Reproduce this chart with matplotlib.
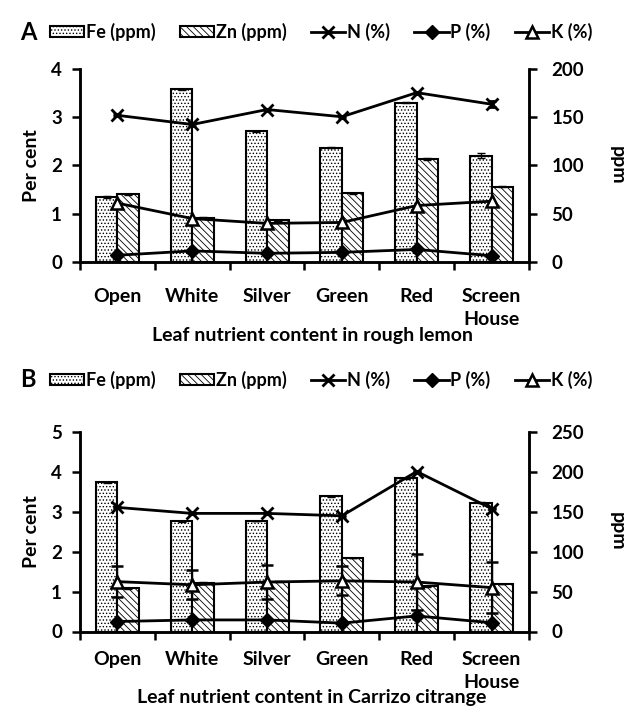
import numpy as np
import matplotlib.pyplot as plt
from matplotlib.ticker import FixedLocator

plt.rcParams['font.family'] = ['Lato', 'DejaVu Sans']
plt.rcParams['font.weight'] = 'bold'
plt.rcParams['hatch.linewidth'] = 0.6

sites = ["Open", "White", "Silver", "Green", "Red", "Screen\nHouse"]

# rough lemon
fe_a = [67.5, 179, 135.5, 118.5, 165, 110]
zn_a = [70, 46, 43.5, 71, 106.5, 78]
fe_a_err = [0.8, 0.5, 0.5, 0.5, 0.5, 2.5]
zn_a_err = [0.5, 0.5, 0.5, 0.5, 0.8, 0.5]
n_a = [3.04, 2.85, 3.16, 3.01, 3.51, 3.27]
n_a_err = [0.02, 0.03, 0.02, 0.02, 0.02, 0.06]
p_a = [0.14, 0.23, 0.18, 0.20, 0.26, 0.13]
k_a = [1.22, 0.90, 0.80, 0.82, 1.17, 1.26]

# Carrizo citrange
fe_b = [187, 138, 138.5, 169.5, 192, 161.5]
zn_b = [54, 61, 62.5, 92, 56.5, 59.5]
fe_b_err = [0.8, 0.5, 0.5, 0.5, 0.5, 0.5]
zn_b_err = [0.5, 0.5, 0.5, 0.5, 0.5, 0.5]
n_b = [3.11, 2.96, 2.96, 2.90, 4.01, 3.08]
n_b_err = [0.02, 0.02, 0.02, 0.02, 0.02, 0.02]
p_b = [0.25, 0.29, 0.29, 0.21, 0.39, 0.22]
k_b = [1.25, 1.17, 1.24, 1.27, 1.24, 1.10]
k_b_err = [0.38, 0.36, 0.42, 0.36, 0.70, 0.63]

w = 0.287
x = np.arange(len(sites))


def panel(rect, letter, fe, zn, fe_err, zn_err, n, n_err, p, k, k_err,
          pmax, title, legend_y, title_y, lab_pad):
    ax = fig.add_axes(rect)
    ax2 = ax.twinx()
    b1 = ax2.bar(x - w / 2, fe, w, yerr=fe_err, color='white', edgecolor='black',
                 hatch='.....', linewidth=1.5, capsize=3,
                 error_kw=dict(elinewidth=1, capthick=1))
    b2 = ax2.bar(x + w / 2, zn, w, yerr=zn_err, color='white', edgecolor='black',
                 hatch='\\\\\\\\\\', linewidth=1.5, capsize=3,
                 error_kw=dict(elinewidth=1, capthick=1))
    l1 = ax.errorbar(x, n, yerr=n_err, color='black', lw=2, marker='x', ms=8,
                     mew=2, capsize=3, elinewidth=1)
    l2 = ax.errorbar(x, p, color='black', lw=2, marker='D', ms=7,
                     mfc='black', mec='black')
    l3 = ax.errorbar(x, k, yerr=k_err, color='black', lw=2, marker='^', ms=8,
                     mfc='white', mec='black', mew=1.8, capsize=4, elinewidth=1)
    ax.set_zorder(ax2.get_zorder() + 1)
    ax.patch.set_visible(False)

    ax.set_xlim(-0.5, 5.5)
    ax.set_ylim(0, pmax)
    ax2.set_ylim(0, pmax * 50)
    ax.set_yticks(np.arange(0, pmax + 1))
    ax2.set_yticks(np.arange(0, pmax * 50 + 1, 50))
    ax.set_xticks(x)
    ax.set_xticklabels(sites, fontsize=14, fontweight='bold', linespacing=1.4,
                       va='top')
    ax.xaxis.set_minor_locator(FixedLocator(np.arange(-0.5, 6, 1)))
    ax.tick_params(axis='x', which='major', length=0, pad=lab_pad)
    ax.tick_params(axis='x', which='minor', length=6, width=1.8, direction='out')
    ax.tick_params(axis='y', length=6, width=1.8, labelsize=13.5, pad=7)
    ax2.tick_params(axis='y', length=6, width=1.8, labelsize=13.5, pad=10)
    for a in (ax, ax2):
        a.spines['top'].set_visible(False)
        for s in ('left', 'right', 'bottom'):
            a.spines[s].set_linewidth(1.8)
    ax.set_ylabel("Per cent", fontsize=14, fontweight='bold', labelpad=8)
    ax2.set_ylabel("ppm", fontsize=14, fontweight='bold', rotation=270,
                   labelpad=30)
    fig.text(312 / 629, 1 - title_y / 710, title, fontsize=14,
             fontweight='bold', ha='center', va='center')

    fig.text(20 / 629, 1 - legend_y / 710, letter, fontsize=17,
             fontweight='bold', va='center', ha='left')
    fig.legend([b1, b2, l1[0], l2[0], l3[0]],
               ["Fe (ppm)", "Zn (ppm)", "N (%)", "P (%)", "K (%)"],
               loc='center', bbox_to_anchor=(321 / 629, 1 - legend_y / 710),
               ncol=5, frameon=False, fontsize=13, handlelength=1.9,
               handleheight=0.5, handletextpad=0.1, columnspacing=1.35,
               borderaxespad=0)


fig = plt.figure(figsize=(6.29, 7.10), dpi=100)
panel([80 / 629, 1 - 262 / 710, 449 / 629, 193 / 710], "A",
      fe_a, zn_a, fe_a_err, zn_a_err, n_a, n_a_err, p_a, k_a, None,
      4, "Leaf nutrient content in rough lemon", 32, 336, 19)
panel([80 / 629, 1 - 631.5 / 710, 449 / 629, 199.5 / 710], "B",
      fe_b, zn_b, fe_b_err, zn_b_err, n_b, n_b_err, p_b, k_b, k_b_err,
      5, "Leaf nutrient content in Carrizo citrange", 380, 698, 14)
fig.savefig("out.png", dpi=100)
